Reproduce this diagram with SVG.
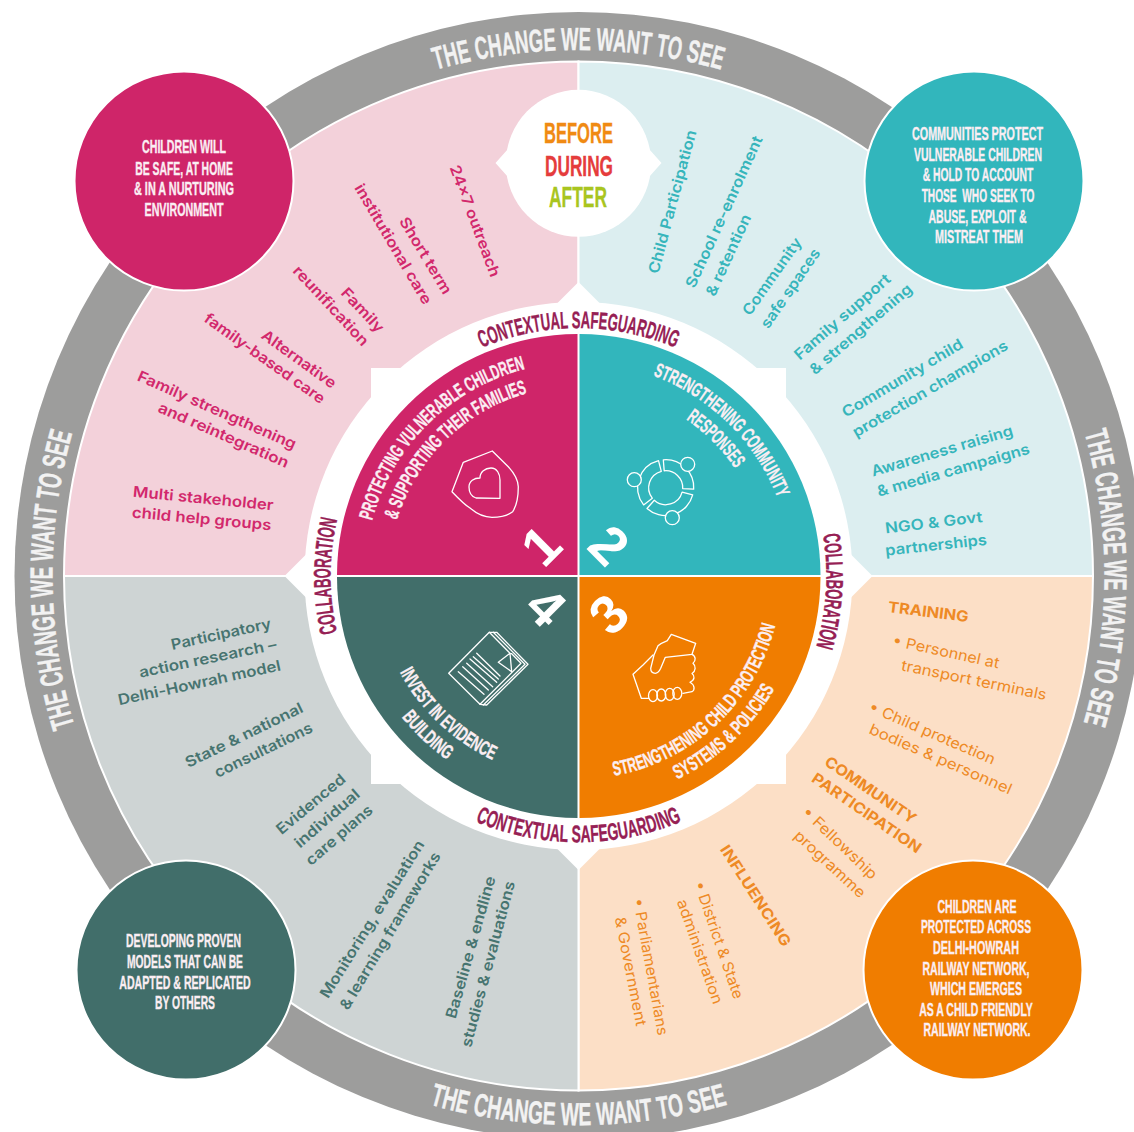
<svg xmlns="http://www.w3.org/2000/svg" width="1134" height="1132" viewBox="0 0 1134 1132">
<style>
text{text-anchor:middle}
.c{font-family:"Liberation Sans Narrow","Liberation Sans",sans-serif;font-weight:700;stroke-width:.35}
.ring{font-size:32px;fill:#f2f2f2;stroke:#f2f2f2}
.lab{font-size:24px;fill:#962054;stroke:#962054}
.qt{font-size:20px;fill:#fbeef3;stroke:#fbeef3}
.ct{font-size:18px;fill:#fbeef3;stroke:#fbeef3}
.b{font-family:Inter,"Open Sans",sans-serif;font-size:15px;font-weight:600}
.o{font-family:Inter,"Open Sans",sans-serif;font-size:15px;font-weight:400;fill:#ee8a25}
.oh{font-family:Inter,"Open Sans",sans-serif;font-size:15px;font-weight:700;fill:#ee8a25}
.pk{fill:#d2286c}.tl{fill:#36b5bb}.gn{fill:#477470}
.n{font-family:"Liberation Sans",sans-serif;font-weight:700;font-size:54px;fill:#fff}
.ic{fill:none;stroke:#fff;stroke-width:1.3;stroke-linejoin:round;stroke-linecap:round}
.sep{stroke:#fff;stroke-width:2}
</style>
<defs>
<path id="t526" d="M60.5 484.7A526 526 0 0 1 1096.5 484.7"/>
<path id="t248" d="M334.3 532.9A248 248 0 0 1 822.7 532.9"/>
<path id="t214" d="M367.8 538.8A214 214 0 0 1 789.2 538.8"/>
<path id="t190" d="M391.4 543A190 190 0 0 1 765.6 543"/>
<path id="b549" d="M37.8 671.3A549 549 0 0 0 1119.2 671.3"/>
<path id="b266" d="M316.5 622.2A266 266 0 0 0 840.5 622.2"/>
<path id="b203" d="M378.6 611.3A203 203 0 0 0 778.4 611.3"/>
<path id="b226" d="M355.9 615.2A226 226 0 0 0 801.1 615.2"/>
</defs>
<rect width="1134" height="1132" fill="#fff"/>
<g id="outer-ring">
<circle cx="578.5" cy="576" r="564" fill="#9d9d9c"/>
<text class="c ring"><textPath href="#t526" startOffset="50%" textLength="289" lengthAdjust="spacingAndGlyphs">THE CHANGE WE WANT TO SEE</textPath></text>
<g transform="rotate(90.2 578.5 576)"><text class="c ring"><textPath href="#t526" startOffset="50%" textLength="294" lengthAdjust="spacingAndGlyphs">THE CHANGE WE WANT TO SEE</textPath></text></g>
<g transform="rotate(-90.4 578.5 576)"><text class="c ring"><textPath href="#t526" startOffset="50%" textLength="297" lengthAdjust="spacingAndGlyphs">THE CHANGE WE WANT TO SEE</textPath></text></g>
<text class="c ring"><textPath href="#b549" startOffset="50%" textLength="302" lengthAdjust="spacingAndGlyphs">THE CHANGE WE WANT TO SEE</textPath></text>
</g>
<g id="bands" class="sep">
<path fill="#f3d1da" d="M578.5 576H64A514.5 514.5 0 0 1 578.5 61.5Z"/>
<path fill="#dceef0" d="M578.5 576V61.5A514.5 514.5 0 0 1 1093 576Z"/>
<path fill="#fcdfc6" d="M578.5 576H1093A514.5 514.5 0 0 1 578.5 1090.5Z"/>
<path fill="#ced4d4" d="M578.5 576V1090.5A514.5 514.5 0 0 1 64 576Z"/>
</g>
<g id="hub-backing" fill="#fff">
<rect x="371" y="368" width="415" height="416"/>
<path d="M578.5 282L872.5 576L578.5 870L284.5 576Z"/>
<circle cx="578.5" cy="576" r="274"/>
</g>
<g id="quadrant-1">
<path fill="#cf2569" d="M577.5 575H337A241.5 241.5 0 0 1 577.5 334Z"/>
<text class="c qt" transform="rotate(-44.7 578.5 576)"><textPath href="#t214" startOffset="50%" textLength="226" lengthAdjust="spacingAndGlyphs">PROTECTING VULNERABLE CHILDREN</textPath></text>
<text class="c qt" transform="rotate(-44.3 578.5 576)"><textPath href="#t190" startOffset="50%" textLength="190" lengthAdjust="spacingAndGlyphs">&amp; SUPPORTING THEIR FAMILIES</textPath></text>
<path class="ic" d="M492.3 451L463.3 462.3L452 491.7C458 498 465 505 470 508C477 514 484 517.3 492 517.3C500 517.3 507 516 512.7 511.7C517 505 518.3 496 518.3 486.7C518 479 514 473 508.3 466.7Z"/>
<path class="ic" d="M500 498.3L476 498C470 496 469 491 469 487C469 481 474 478 480 478C480 472 485 468 491 468C497 468 500 474 500 480Z"/>
<text class="n" transform="translate(540.5 545) rotate(-45)" dy="19.5">1</text>
</g>
<g id="quadrant-2">
<path fill="#32b6bc" d="M579.5 575V334A241.5 241.5 0 0 1 820.5 575Z"/>
<text class="c qt" transform="rotate(44.5 578.5 576)"><textPath href="#t214" startOffset="50%" textLength="180" lengthAdjust="spacingAndGlyphs">STRENGTHENING COMMUNITY</textPath></text>
<text class="c qt" transform="rotate(45 578.5 576)"><textPath href="#t190" startOffset="50%" textLength="70" lengthAdjust="spacingAndGlyphs">RESPONSES</textPath></text>
<g class="ic">
<path d="M663.3 459.8A28 28 0 0 1 693.7 489.2L682.7 488.6A17 17 0 0 0 664.2 470.8Z"/>
<path d="M692.7 494.9A28 28 0 0 1 647 508.5L654.3 500.3A17 17 0 0 0 682.1 492.1Z"/>
<path d="M643.6 504.9A28 28 0 0 1 658.5 460.7L661.3 471.3A17 17 0 0 0 652.3 498.2Z"/>
<g style="fill:#32b6bc"><circle cx="687.7" cy="464.3" r="7"/><circle cx="634.3" cy="479.7" r="7"/><circle cx="672.3" cy="517.7" r="7"/></g>
</g>
<text class="n" transform="translate(609.7 544.5) rotate(45)" dy="19.5">2</text>
</g>
<g id="quadrant-3">
<path fill="#f07d00" d="M579.5 577H820.5A241.5 241.5 0 0 1 579.5 818Z"/>
<text class="c qt" transform="rotate(-43 578.5 576)"><textPath href="#b203" startOffset="50%" textLength="233" lengthAdjust="spacingAndGlyphs">STRENGTHENING CHILD PROTECTION</textPath></text>
<text class="c qt" transform="rotate(-43 578.5 576)"><textPath href="#b226" startOffset="50%" textLength="135" lengthAdjust="spacingAndGlyphs">SYSTEMS &amp; POLICIES</textPath></text>
<g class="ic">
<path d="M671.3 634.3L695.7 643.3L692 654.3L665.3 657.3L660.7 668.3C659 672 657 673.3 655.3 673.3C652 673.3 650.7 671 650.7 668.3L654 655L658 645.7C661 643 664 642 667.3 640.7Z"/>
<path d="M692 654.3C696 656 696 661 693 663.3C696 666 696 671 692 673.5C695 676 695 680 690 682.3C695 685 695 690 692 691.7L683 693.3"/>
<path d="M653 655L643 665L633 674.3L641.3 698.3L649 698.3"/>
<ellipse cx="653" cy="695.7" rx="4.5" ry="6"/><ellipse cx="661.3" cy="695" rx="4.5" ry="6"/><ellipse cx="669.7" cy="694.3" rx="4.5" ry="6"/><ellipse cx="677.3" cy="693.3" rx="4.5" ry="6"/>
</g>
<text class="n" transform="translate(608 613.5) rotate(-45)" dy="19.5">3</text>
</g>
<g id="quadrant-4">
<path fill="#416e6a" d="M577.5 577V818A241.5 241.5 0 0 1 337 577Z"/>
<text class="c qt" transform="rotate(43.4 578.5 576)"><textPath href="#b203" startOffset="50%" textLength="130" lengthAdjust="spacingAndGlyphs">INVEST IN EVIDENCE</textPath></text>
<text class="c qt" transform="rotate(43.5 578.5 576)"><textPath href="#b226" startOffset="50%" textLength="63" lengthAdjust="spacingAndGlyphs">BUILDING</textPath></text>
<g class="ic">
<path d="M489.3 632.3L448.7 673.3L480 704.3L521 663.3L511.7 653.7L510 653.3Z"/>
<path d="M489.3 632.3H496.7L528 664.3L486.7 705L480 704.3"/>
<path d="M493.3 632.3L525 664.3L483.3 705"/>
<path d="M510 653.3L498.3 662.3L511.7 671.7Z"/>
<path d="M458.3 671.7L484 694.3M462.7 666.7L488.3 690M466.7 663.3L492.7 686.7M470 659L496.7 682.3M473.3 656.7L498.3 679M476.7 653.3L500 676"/>
</g>
<text class="n" transform="translate(546.7 606) rotate(45)" dy="19.5">4</text>
</g>
<g id="hub-labels">
<text class="c lab"><textPath href="#t248" startOffset="50%" textLength="199" lengthAdjust="spacingAndGlyphs">CONTEXTUAL SAFEGUARDING</textPath></text>
<text class="c lab"><textPath href="#b266" startOffset="50%" textLength="212" lengthAdjust="spacingAndGlyphs">CONTEXTUAL SAFEGUARDING</textPath></text>
<text class="c lab" transform="rotate(-90 578.5 576)"><textPath href="#t248" startOffset="50%" textLength="114" lengthAdjust="spacingAndGlyphs">COLLABORATION</textPath></text>
<text class="c lab" transform="rotate(93.5 578.5 576)"><textPath href="#t248" startOffset="50%" textLength="113" lengthAdjust="spacingAndGlyphs">COLLABORATION</textPath></text>
</g>
<g id="before-during-after">
<ellipse cx="578.5" cy="163.3" rx="72.7" ry="73.5" fill="#fff"/>
<path d="M495.5 163L508 149V177Z M661.5 163L649 149V177Z" fill="#fff"/>
<text class="c" x="578.5" y="142.7" font-size="29" fill="#f08a13" stroke="#f08a13" textLength="69" lengthAdjust="spacingAndGlyphs">BEFORE</text>
<text class="c" x="579" y="175.7" font-size="29" fill="#e53c3c" stroke="#e53c3c" textLength="68" lengthAdjust="spacingAndGlyphs">DURING</text>
<text class="c" x="578" y="207.3" font-size="29" fill="#a9c51f" stroke="#a9c51f" textLength="58" lengthAdjust="spacingAndGlyphs">AFTER</text>
</g>
<g id="outcome-pink">
<circle cx="184" cy="181" r="109.5" fill="#cf2569" stroke="#fff" stroke-width="2"/>
<text class="c ct" x="184" y="153.3" textLength="84" lengthAdjust="spacingAndGlyphs">CHILDREN WILL</text>
<text class="c ct" x="184" y="175" textLength="97.7" lengthAdjust="spacingAndGlyphs">BE SAFE, AT HOME</text>
<text class="c ct" x="184" y="195" textLength="100" lengthAdjust="spacingAndGlyphs">&amp; IN A NURTURING</text>
<text class="c ct" x="184" y="215.7" textLength="79" lengthAdjust="spacingAndGlyphs">ENVIRONMENT</text>
</g>
<g id="outcome-teal">
<circle cx="974" cy="181" r="109.5" fill="#32b6bc" stroke="#fff" stroke-width="2"/>
<text class="c ct" x="977.5" y="140" textLength="131" lengthAdjust="spacingAndGlyphs">COMMUNITIES PROTECT</text>
<text class="c ct" x="978" y="160.7" textLength="128" lengthAdjust="spacingAndGlyphs">VULNERABLE CHILDREN</text>
<text class="c ct" x="978" y="181" textLength="110.7" lengthAdjust="spacingAndGlyphs">&amp; HOLD TO ACCOUNT</text>
<text class="c ct" x="978" y="202.3" textLength="112.7" lengthAdjust="spacingAndGlyphs" xml:space="preserve">THOSE  WHO SEEK TO</text>
<text class="c ct" x="977.5" y="222.7" textLength="98" lengthAdjust="spacingAndGlyphs">ABUSE, EXPLOIT &amp;</text>
<text class="c ct" x="979" y="243.3" textLength="88" lengthAdjust="spacingAndGlyphs">MISTREAT THEM</text>
</g>
<g id="outcome-orange">
<circle cx="973" cy="970" r="109.5" fill="#f07d00" stroke="#fff" stroke-width="2"/>
<text class="c ct" x="977" y="913.3" textLength="79" lengthAdjust="spacingAndGlyphs">CHILDREN ARE</text>
<text class="c ct" x="976" y="933.3" textLength="110" lengthAdjust="spacingAndGlyphs">PROTECTED ACROSS</text>
<text class="c ct" x="976" y="954.3" textLength="86" lengthAdjust="spacingAndGlyphs">DELHI-HOWRAH</text>
<text class="c ct" x="976" y="974.5" textLength="107" lengthAdjust="spacingAndGlyphs">RAILWAY NETWORK,</text>
<text class="c ct" x="976" y="995" textLength="92" lengthAdjust="spacingAndGlyphs">WHICH EMERGES</text>
<text class="c ct" x="976" y="1015.7" textLength="113.7" lengthAdjust="spacingAndGlyphs">AS A CHILD FRIENDLY</text>
<text class="c ct" x="977" y="1036" textLength="107" lengthAdjust="spacingAndGlyphs">RAILWAY NETWORK.</text>
</g>
<g id="outcome-green">
<circle cx="186" cy="970" r="109.5" fill="#416e6a" stroke="#fff" stroke-width="2"/>
<text class="c ct" x="183.5" y="946.7" textLength="115" lengthAdjust="spacingAndGlyphs">DEVELOPING PROVEN</text>
<text class="c ct" x="185" y="967.7" textLength="116" lengthAdjust="spacingAndGlyphs">MODELS THAT CAN BE</text>
<text class="c ct" x="185" y="988.7" textLength="131.4" lengthAdjust="spacingAndGlyphs">ADAPTED &amp; REPLICATED</text>
<text class="c ct" x="185" y="1009" textLength="60" lengthAdjust="spacingAndGlyphs">BY OTHERS</text>
</g>
<g id="band-text-pink" class="b pk">
<text transform="translate(475 221) rotate(69.5)" dy=".35em" textLength="118" lengthAdjust="spacingAndGlyphs">24x7 outreach</text>
<text transform="translate(425.7 255.7) rotate(59)" dy=".35em" textLength="87" lengthAdjust="spacingAndGlyphs">Short term</text>
<text transform="translate(393.3 244) rotate(59.4)" dy=".35em" textLength="137" lengthAdjust="spacingAndGlyphs">institutional care</text>
<text transform="translate(362.7 310) rotate(46.7)" dy=".35em" textLength="55" lengthAdjust="spacingAndGlyphs">Family</text>
<text transform="translate(331 305.7) rotate(47)" dy=".35em" textLength="103" lengthAdjust="spacingAndGlyphs">reunification</text>
<text transform="translate(299 359) rotate(35.8)" dy=".35em" textLength="88" lengthAdjust="spacingAndGlyphs">Alternative</text>
<text transform="translate(264.7 358.3) rotate(35.4)" dy=".35em" textLength="144" lengthAdjust="spacingAndGlyphs">family-based care</text>
<text transform="translate(217 410) rotate(23.9)" dy=".35em" textLength="172" lengthAdjust="spacingAndGlyphs">Family strengthening</text>
<text transform="translate(223.7 435) rotate(23.7)" dy=".35em" textLength="141" lengthAdjust="spacingAndGlyphs">and reintegration</text>
<text transform="translate(203.3 498.3) rotate(5.5)" dy=".35em" textLength="141" lengthAdjust="spacingAndGlyphs">Multi stakeholder</text>
<text transform="translate(201.7 518.7) rotate(5.3)" dy=".35em" textLength="140" lengthAdjust="spacingAndGlyphs">child help groups</text>
</g>
<g id="band-text-teal" class="b tl">
<text transform="translate(672.3 201.7) rotate(-75)" dy=".35em" textLength="148" lengthAdjust="spacingAndGlyphs">Child Participation</text>
<text transform="translate(724 211.7) rotate(-65.5)" dy=".35em" textLength="165" lengthAdjust="spacingAndGlyphs">School re-enrolment</text>
<text transform="translate(728.3 255) rotate(-65.4)" dy=".35em" textLength="88" lengthAdjust="spacingAndGlyphs">&amp; retention</text>
<text transform="translate(772 276.3) rotate(-54.7)" dy=".35em" textLength="91" lengthAdjust="spacingAndGlyphs">Community</text>
<text transform="translate(790.3 288.3) rotate(-55.5)" dy=".35em" textLength="93" lengthAdjust="spacingAndGlyphs">safe spaces</text>
<text transform="translate(842.3 316.7) rotate(-41)" dy=".35em" textLength="122" lengthAdjust="spacingAndGlyphs">Family support</text>
<text transform="translate(860.7 329) rotate(-40.8)" dy=".35em" textLength="130" lengthAdjust="spacingAndGlyphs">&amp; strengthening</text>
<text transform="translate(902.3 378) rotate(-30.8)" dy=".35em" textLength="138" lengthAdjust="spacingAndGlyphs">Community child</text>
<text transform="translate(930 388.7) rotate(-30.2)" dy=".35em" textLength="177" lengthAdjust="spacingAndGlyphs">protection champions</text>
<text transform="translate(942 450.7) rotate(-16.4)" dy=".35em" textLength="147" lengthAdjust="spacingAndGlyphs">Awareness raising</text>
<text transform="translate(953.3 470) rotate(-15.9)" dy=".35em" textLength="158" lengthAdjust="spacingAndGlyphs">&amp; media campaigns</text>
<text transform="translate(933.7 522.5) rotate(-6.8)" dy=".35em" textLength="98" lengthAdjust="spacingAndGlyphs">NGO &amp; Govt</text>
<text transform="translate(936 545) rotate(-6.2)" dy=".35em" textLength="102" lengthAdjust="spacingAndGlyphs">partnerships</text>
</g>
<g id="band-text-orange">
<text class="oh" transform="translate(928.3 611.7) rotate(7.1)" dy=".35em" textLength="81" lengthAdjust="spacingAndGlyphs">TRAINING</text>
<text class="o" transform="translate(946 651.7) rotate(12.3)" dy=".35em" textLength="109" lengthAdjust="spacingAndGlyphs">• Personnel at</text>
<text class="o" transform="translate(974 680) rotate(11.7)" dy=".35em" textLength="148" lengthAdjust="spacingAndGlyphs">transport terminals</text>
<text class="o" transform="translate(932.3 733) rotate(23.4)" dy=".35em" textLength="136" lengthAdjust="spacingAndGlyphs">• Child protection</text>
<text class="o" transform="translate(940.7 759) rotate(23.5)" dy=".35em" textLength="154" lengthAdjust="spacingAndGlyphs">bodies &amp; personnel</text>
<text class="oh" transform="translate(870.7 790) rotate(34.2)" dy=".35em" textLength="107" lengthAdjust="spacingAndGlyphs">COMMUNITY</text>
<text class="oh" transform="translate(866.7 813) rotate(34.5)" dy=".35em" textLength="129" lengthAdjust="spacingAndGlyphs">PARTICIPATION</text>
<text class="o" transform="translate(840 843) rotate(43.6)" dy=".35em" textLength="97" lengthAdjust="spacingAndGlyphs">• Fellowship</text>
<text class="o" transform="translate(830 864) rotate(42.8)" dy=".35em" textLength="91" lengthAdjust="spacingAndGlyphs">programme</text>
<text class="oh" transform="translate(755.7 895.7) rotate(57.2)" dy=".35em" textLength="117" lengthAdjust="spacingAndGlyphs">INFLUENCING</text>
<text class="o" transform="translate(719 940) rotate(71)" dy=".35em" textLength="123" lengthAdjust="spacingAndGlyphs">• District &amp; State</text>
<text class="o" transform="translate(700 951.7) rotate(70.5)" dy=".35em" textLength="110" lengthAdjust="spacingAndGlyphs">administration</text>
<text class="o" transform="translate(650.7 966.7) rotate(79.6)" dy=".35em" textLength="139" lengthAdjust="spacingAndGlyphs">• Parliamentarians</text>
<text class="o" transform="translate(630.7 971.3) rotate(78.8)" dy=".35em" textLength="111" lengthAdjust="spacingAndGlyphs">&amp; Government</text>
</g>
<g id="band-text-green" class="b gn">
<text transform="translate(221 634) rotate(-12.2)" dy=".35em" textLength="102" lengthAdjust="spacingAndGlyphs">Participatory</text>
<text transform="translate(207.7 658.3) rotate(-11.7)" dy=".35em" textLength="140" lengthAdjust="spacingAndGlyphs">action research –</text>
<text transform="translate(199.3 682.7) rotate(-12.2)" dy=".35em" textLength="166" lengthAdjust="spacingAndGlyphs">Delhi-Howrah model</text>
<text transform="translate(244 735) rotate(-26)" dy=".35em" textLength="129" lengthAdjust="spacingAndGlyphs">State &amp; national</text>
<text transform="translate(263.3 750) rotate(-25.8)" dy=".35em" textLength="107" lengthAdjust="spacingAndGlyphs">consultations</text>
<text transform="translate(310.7 804) rotate(-40)" dy=".35em" textLength="85" lengthAdjust="spacingAndGlyphs">Evidenced</text>
<text transform="translate(327 818.3) rotate(-41)" dy=".35em" textLength="81" lengthAdjust="spacingAndGlyphs">individual</text>
<text transform="translate(339 835) rotate(-41)" dy=".35em" textLength="83" lengthAdjust="spacingAndGlyphs">care plans</text>
<text transform="translate(372 919) rotate(-58)" dy=".35em" textLength="183" lengthAdjust="spacingAndGlyphs">Monitoring, evaluation</text>
<text transform="translate(390 930.7) rotate(-59)" dy=".35em" textLength="181" lengthAdjust="spacingAndGlyphs">&amp; learning frameworks</text>
<text transform="translate(470.5 947.3) rotate(-74.2)" dy=".35em" textLength="147" lengthAdjust="spacingAndGlyphs">Baseline &amp; endline</text>
<text transform="translate(488 964) rotate(-75)" dy=".35em" textLength="171" lengthAdjust="spacingAndGlyphs">studies &amp; evaluations</text>
</g>
</svg>
